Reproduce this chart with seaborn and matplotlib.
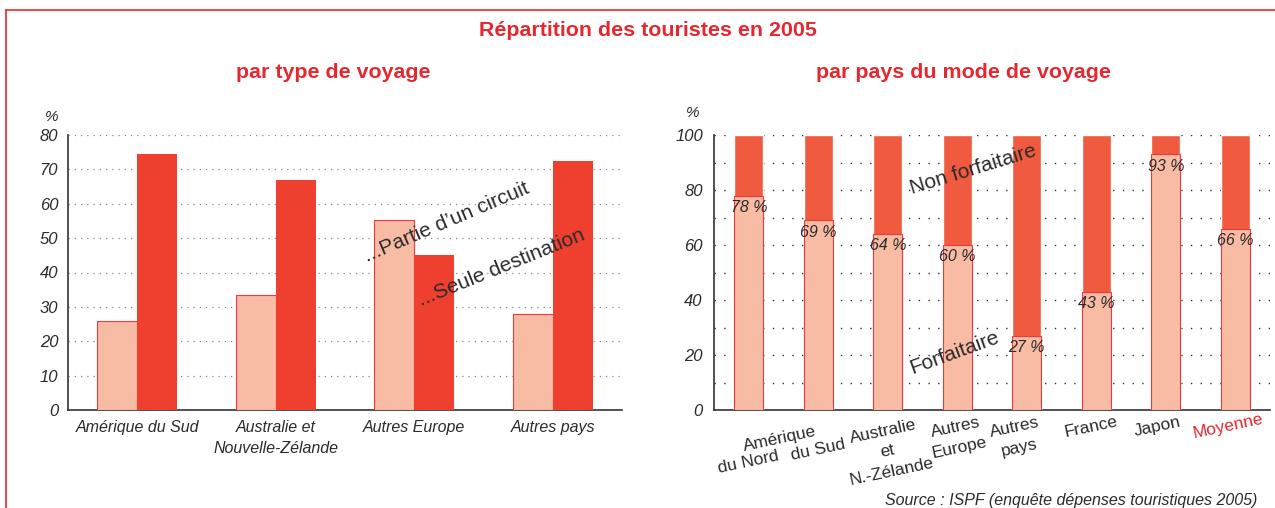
import pandas as pd
import matplotlib
matplotlib.use("Agg")
import matplotlib.pyplot as plt
import seaborn as sns
from matplotlib.lines import Line2D

# Left chart data: share of tourists by trip type
regions_left = ["Amérique du Sud", "Australie et\nNouvelle-Zélande", "Autres Europe", "Autres pays"]
circuit = [25.8, 33.5, 55.2, 28.0]
seule = [74.5, 66.8, 45.0, 72.3]

# Right chart data: package share by country
pays = ["Amérique du Nord", "Amérique du Sud", "Australie et N.-Zélande", "Autres Europe",
        "Autres pays", "France", "Japon", "Moyenne"]
forfait = [78, 69, 64, 60, 27, 43, 93, 66]
total = [100] * len(pays)

RED = "#E8262E"
LIGHT = "#F8BBA4"
DARK_L = "#EE3F2F"
DARK_R = "#F05A3F"
EDGE = "#EC3A3F"
TXT = "#2b2b2b"

sns.set_theme(style="white")
plt.rcParams["font.family"] = ["Liberation Sans", "DejaVu Sans"]

W, H = 1275, 508
fig = plt.figure(figsize=(W / 100, H / 100), dpi=100)


def px_axes(x0, x1, ytop, ybot):
    return fig.add_axes([x0 / W, (H - ybot) / H, (x1 - x0) / W, (ybot - ytop) / H])


# frame
fig.add_artist(Line2D([6 / W, 1], [1 - 10 / H, 1 - 10 / H], color=RED, lw=1.2, transform=fig.transFigure))
fig.add_artist(Line2D([6 / W, 6 / W], [0, 1 - 10 / H], color=RED, lw=1.2, transform=fig.transFigure))

fig.text(648 / W, 1 - 30 / H, "Répartition des touristes en 2005", color=RED, fontsize=15.4,
         fontweight="bold", ha="center", va="center")
fig.text(333 / W, 1 - 73 / H, "par type de voyage", color=RED, fontsize=15.4,
         fontweight="bold", ha="center", va="center")
fig.text(963 / W, 1 - 73 / H, "par pays du mode de voyage", color=RED, fontsize=15.4,
         fontweight="bold", ha="center", va="center")

# ---------------- left chart ----------------
ax1 = px_axes(68, 622, 135, 410)
df_left = pd.DataFrame({
    "region": regions_left * 2,
    "pct": circuit + seule,
    "type": ["circuit"] * 4 + ["seule"] * 4,
})
sns.barplot(data=df_left, x="region", y="pct", hue="type", palette=[LIGHT, DARK_L],
            width=0.58, dodge=True, legend=False, ax=ax1, zorder=3, saturation=1)
for p in ax1.patches:
    if p.get_facecolor()[:3] == matplotlib.colors.to_rgb(LIGHT):
        p.set_edgecolor(EDGE)
        p.set_linewidth(0.8)
    else:
        p.set_edgecolor("none")
ax1.set_xlim(-0.5, 3.5)
ax1.set_ylim(0, 80)
ax1.set_yticks(range(0, 81, 10))
ax1.set_yticklabels([str(v) for v in range(0, 81, 10)], fontsize=12, style="italic", color=TXT)
ax1.set_xticks([-0.5, 0.5, 1.5, 2.5, 3.5])
ax1.set_xticklabels([])
ax1.set_xticks(range(4), minor=True)
ax1.set_xticklabels(regions_left, minor=True, fontsize=11.5, style="italic", color=TXT,
                    linespacing=1.5)
ax1.tick_params(axis="x", which="major", length=7, width=1, color="#333", direction="out")
ax1.tick_params(axis="x", which="minor", length=0, pad=7)
ax1.tick_params(axis="y", length=4, width=1, color="#333", direction="out", pad=3)
ax1.set_xlabel("")
ax1.set_ylabel("")
ax1.yaxis.grid(True, color="#888", linestyle=(0, (1, 4)), lw=0.9, zorder=0)
ax1.set_axisbelow(True)
for s in ["top", "right"]:
    ax1.spines[s].set_visible(False)
for s in ["left", "bottom"]:
    ax1.spines[s].set_color("#333")
    ax1.spines[s].set_linewidth(1.2)
ax1.text(-0.029, 1.065, "%", transform=ax1.transAxes, fontsize=11, style="italic",
         color=TXT, ha="center", va="center")
ax1.text(1.646, 44.5, "...Partie d\u2019un circuit", rotation=23, fontsize=15, color=TXT,
         ha="left", va="center", rotation_mode="anchor", zorder=5)
ax1.text(2.036, 31.7, "...Seule destination", rotation=22, fontsize=15, color=TXT,
         ha="left", va="center", rotation_mode="anchor", zorder=5)

# ---------------- right chart ----------------
ax2 = px_axes(714, 1270, 135, 410)
df_right = pd.DataFrame({"pays": pays, "forfait": forfait, "total": total})
sns.barplot(data=df_right, x="pays", y="total", color=DARK_R, saturation=1, width=0.42,
            ax=ax2, zorder=3)
sns.barplot(data=df_right, x="pays", y="forfait", color=LIGHT, saturation=1, width=0.42,
            ax=ax2, zorder=4, edgecolor=EDGE, linewidth=0.8)
ax2.set_xlim(-0.5, 7.5)
ax2.set_ylim(0, 100)
ax2.set_yticks(range(0, 101, 20))
ax2.set_yticklabels([str(v) for v in range(0, 101, 20)], fontsize=12, style="italic", color=TXT)
ax2.set_yticks(range(10, 100, 20), minor=True)
ax2.set_xticks([i - 0.5 for i in range(9)])
ax2.set_xticklabels([])
ax2.tick_params(axis="x", which="major", length=15, width=1, color="#333", direction="out")
ax2.tick_params(axis="y", which="both", length=4, width=1, color="#333", direction="out", pad=4)
ax2.set_xlabel("")
ax2.set_ylabel("")
ax2.yaxis.grid(True, which="both", color="#333", linestyle=(0, (1, 6)), lw=1.0, zorder=0)
ax2.set_axisbelow(True)
for s in ["top", "right"]:
    ax2.spines[s].set_visible(False)
for s in ["left", "bottom"]:
    ax2.spines[s].set_color("#333")
    ax2.spines[s].set_linewidth(1.2)
ax2.text(-0.038, 1.08, "%", transform=ax2.transAxes, fontsize=11, style="italic",
         color=TXT, ha="center", va="center")

for i, v in enumerate(forfait):
    ax2.text(i, v - 1.6, f"{v} %", ha="center", va="top", fontsize=11.5, style="italic",
             color=TXT, zorder=6)

ax2.text(2.33, 80.4, "Non forfaitaire", rotation=17, fontsize=15, color=TXT, ha="left",
         va="center", rotation_mode="anchor", zorder=6)
ax2.text(2.33, 14.9, "Forfaitaire", rotation=20, fontsize=15, color=TXT, ha="left",
         va="center", rotation_mode="anchor", zorder=6)

# rotated country labels under the right chart
xt = ax2.get_xaxis_transform()
rot = 12
xlabels = [
    (0.45, -0.105, "Amérique", TXT),
    (0.0, -0.19, "du Nord", TXT),
    (1.0, -0.145, "du Sud", TXT),
    (2.0, -0.15, "Australie\net\nN.-Zélande", TXT),
    (3.0, -0.10, "Autres\nEurope", TXT),
    (3.86, -0.10, "Autres\npays", TXT),
    (4.92, -0.06, "France", TXT),
    (5.88, -0.06, "Japon", TXT),
    (6.89, -0.06, "Moyenne", RED),
]
for x, y, s, c in xlabels:
    ax2.text(x, y, s, transform=xt, rotation=rot, ha="center", va="center", fontsize=12.5,
             color=c, linespacing=1.45, clip_on=False)

fig.text(1257 / W, 1 - 500 / H, "Source : ISPF (enquête dépenses touristiques 2005)",
         fontsize=11.5, style="italic", color=TXT, ha="right", va="center")

fig.savefig("out.png", dpi=100)
